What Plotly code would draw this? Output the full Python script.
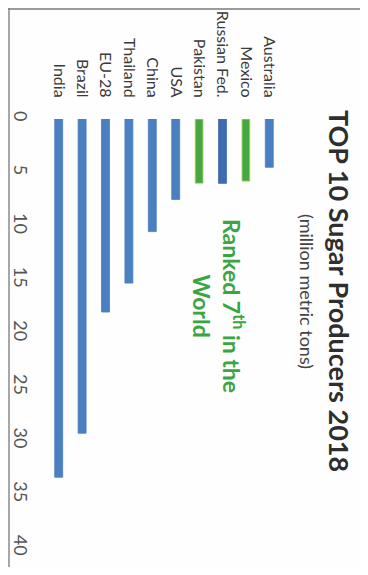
import plotly.graph_objects as go

countries = ["India", "Brazil", "EU-28", "Thailand", "China", "USA",
             "Pakistan", "Russian Fed.", "Mexico", "Australia"]
production = [33.4, 29.3, 18.0, 15.3, 10.5, 7.5, 6.0, 6.0, 5.8, 4.5]
bar_colors = ["#4a7fc1", "#4a7fc1", "#4a7fc1", "#4a7fc1", "#4a7fc1", "#4a7fc1",
              "#45a845", "#3f6cae", "#45a845", "#4a7fc1"]
line_colors = ["#4a7fc1", "#4a7fc1", "#4a7fc1", "#4a7fc1", "#4a7fc1", "#4a7fc1",
               "#d2df5a", "#3f6cae", "#d2df5a", "#4a7fc1"]
value_ticks = [0, 5, 10, 15, 20, 25, 30, 35, 40]

# page body margin offset compensation
OFF = 8
W, H = 368 - OFF, 575 - 2 * OFF
L, T = 47 - OFF, 119 - OFF
R = W - (281 - OFF)
B = H - (548 - OFF)
pw = W - L - R
ph = H - T - B


def px_x(p):
    return (p - OFF - L) / pw


def px_y(p):
    return (H - B - (p - OFF)) / ph


fig = go.Figure(go.Bar(
    x=countries, y=production,
    marker=dict(color=bar_colors, line=dict(color=line_colors, width=0.8)),
    width=0.34,
))

fig.update_layout(
    width=W, height=H,
    margin=dict(l=L, r=R, t=T, b=B),
    paper_bgcolor="#fefefe", plot_bgcolor="#fefefe",
    showlegend=False,
    font=dict(family="Lato", color="#444"),
    xaxis=dict(side="top", tickangle=90, showgrid=False, showline=False,
               ticks="", automargin=False,
               tickfont=dict(size=16, color="#3a3a3a", family="Lato"),
               ticklabelstandoff=18),
    yaxis=dict(range=[40, 0], tickvals=value_ticks, tickangle=90,
               showgrid=False, zeroline=False, showline=False, ticks="",
               automargin=False,
               tickfont=dict(size=18, color="#555", family="Lato"),
               ticklabelstandoff=14),
    annotations=[
        dict(text="<b>TOP 10 Sugar Producers 2018</b>", textangle=90,
             x=px_x(340), y=px_y(291), xref="paper", yref="paper",
             xanchor="center", yanchor="middle",
             showarrow=False, font=dict(size=27, color="#2e2e2e", family="Lato")),
        dict(text="(million metric tons)", textangle=90,
             x=px_x(307), y=px_y(291), xref="paper", yref="paper",
             xanchor="center", yanchor="middle",
             showarrow=False, font=dict(size=18, color="#444", family="Lato")),
        dict(text="<b>Ranked 7<sup>th</sup> in the<br>World</b>", textangle=90,
             x=px_x(219), y=px_y(306), xref="paper", yref="paper",
             xanchor="center", yanchor="middle",
             showarrow=False, font=dict(size=23, color="#3aa543", family="Lato")),
    ],
    shapes=[
        dict(type="line", xref="paper", yref="paper",
             x0=px_x(OFF + 1), x1=px_x(OFF + 1), y0=px_y(OFF), y1=px_y(575),
             line=dict(color="#8a8a8a", width=1.5)),
        dict(type="line", xref="paper", yref="paper",
             x0=px_x(OFF), x1=px_x(368), y0=px_y(OFF + 1), y1=px_y(OFF + 1),
             line=dict(color="#7a7a7a", width=1.5)),
    ],
)

fig.write_html("out.html")
